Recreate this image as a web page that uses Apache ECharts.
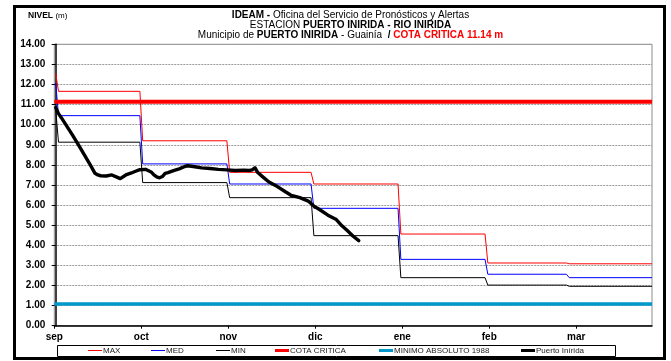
<!DOCTYPE html>
<html>
<head>
<meta charset="utf-8">
<script src="https://cdn.jsdelivr.net/npm/echarts@6/dist/echarts.min.js"></script>
<style>
  html, body { margin: 0; padding: 0; background: #fff; }
  #chart { width: 671px; height: 361px; }
</style>
</head>
<body>
<div id="chart"></div>
<script>
// Month labels, one tick every 31 days counted from 1 September
const monthLabels = ['sep', 'oct', 'nov', 'dic', 'ene', 'feb', 'mar'];
const daysPerTick = 31;

// Day (0 = 1 Sept) on which each monthly reference level starts
const stepDays = [1, 31, 62, 92, 123, 154, 183];

// Historical reference levels (m): value on day 0, then one level per month
const maxStart = 12.55;
const medStart = 12.08;
const minStart = 10.75;
const maxLevels = [11.66, 9.20, 7.63, 7.05, 4.56, 3.12, 3.08];
const medLevels = [10.45, 8.05, 7.05, 5.84, 3.30, 2.56, 2.39];
const minLevels = [9.13, 7.12, 6.37, 4.48, 2.39, 2.02, 1.96];

// Fixed reference levels (m)
const cotaCritica = 11.14;
const minimoAbsoluto1988 = 1.08;

// Observed levels at Puerto Inírida (day from 1 Sept, level in m)
const obsDays = [0, 1, 2, 4, 6, 8, 10, 12, 14, 15, 16, 18, 20, 22, 23, 25, 27, 28, 30, 32,
  34, 35, 36, 37, 38, 39, 40, 42, 44, 46, 47, 49, 52, 55, 58, 61, 64, 67, 69, 70,
  71, 72, 74, 76, 79, 82, 84, 87, 90, 92, 94, 97, 100, 102, 104, 106, 108];
const obsLevels = [10.85, 10.55, 10.35, 9.92, 9.48, 9.02, 8.55, 8.08, 7.58, 7.50, 7.46, 7.45, 7.50, 7.38, 7.32, 7.50, 7.60, 7.66, 7.76, 7.78,
  7.65, 7.50, 7.40, 7.36, 7.42, 7.58, 7.62, 7.72, 7.80, 7.92, 7.96, 7.92, 7.85, 7.82, 7.78, 7.75, 7.72, 7.74, 7.72, 7.75,
  7.86, 7.62, 7.38, 7.15, 6.92, 6.65, 6.48, 6.37, 6.20, 5.95, 5.78, 5.50, 5.28, 4.97, 4.72, 4.45, 4.23];

// Y axis range (m)
const yMin = 0, yMax = 14, yStep = 1;

const FONT = '"Liberation Sans", Arial, sans-serif';
const xMin = -0.5;
const xMax = 212.5;

// Flat monthly levels with a one-day transition between months
function stepSeries(start, levels) {
  const pts = [[0, start]];
  levels.forEach((v, i) => {
    pts.push([stepDays[i], v]);
    const end = i + 1 < stepDays.length ? stepDays[i + 1] - 1 : xMax;
    pts.push([end, v]);
  });
  return pts;
}
function flatSeries(v) {
  return [[xMin, v], [xMax, v]];
}

const tickValues = monthLabels.map((_, i) => xMin + i * daysPerTick);

const chart = echarts.init(document.getElementById('chart'), null, { renderer: 'canvas' });

const legendItems = [
  { name: 'MAX', left: 88, h: 1 },
  { name: 'MED', left: 151, h: 1 },
  { name: 'MIN', left: 216, h: 1 },
  { name: 'COTA CRITICA', left: 275, h: 3 },
  { name: 'MINIMO ABSOLUTO 1988', left: 379, h: 3 },
  { name: 'Puerto Inírida', left: 521, h: 3 }
];

const txt = (size, weight, color) => ({ fontSize: size, fontWeight: weight, fontFamily: FONT, fill: color || '#000', color: color || '#000' });

const option = {
  animation: false,
  backgroundColor: '#fff',
  grid: {
    left: 54.3, top: 44.3, width: 597.7, height: 281.4,
    show: true, borderColor: '#8c8c8c', borderWidth: 1
  },
  xAxis: {
    type: 'value',
    min: xMin, max: xMax,
    axisLine: { show: true, onZero: false, lineStyle: { color: '#000', width: 1.5 } },
    axisTick: { show: true, customValues: tickValues, length: 3, lineStyle: { color: '#000' } },
    axisLabel: {
      customValues: tickValues,
      formatter: v => monthLabels[Math.round((v - xMin) / daysPerTick)] || '',
      fontSize: 10, fontWeight: 'bold', fontFamily: FONT, color: '#000', margin: 7
    },
    splitLine: { show: false }
  },
  yAxis: {
    type: 'value',
    min: yMin, max: yMax, interval: yStep,
    axisLine: { show: true, lineStyle: { color: '#000', width: 1.5 } },
    axisTick: { show: true, length: 4, lineStyle: { color: '#000' } },
    axisLabel: {
      formatter: v => v.toFixed(2),
      fontSize: 10, fontWeight: 'bold', fontFamily: FONT, color: '#000', margin: 9
    },
    splitLine: { show: true, lineStyle: { color: '#9a9a9a', width: 1, type: [2, 1] } }
  },
  legend: legendItems.map(l => ({
    data: [l.name],
    left: l.left, top: 346.5,
    padding: 0,
    icon: 'rect',
    itemWidth: 14, itemHeight: l.h,
    selectedMode: false,
    textStyle: { fontSize: 8, fontFamily: FONT, color: '#222', padding: [0, 0, 0, -4] }
  })),
  graphic: [
    // outer frame
    { type: 'rect', shape: { x: 14.5, y: 6.5, width: 650, height: 352 },
      style: { fill: 'none', stroke: '#000', lineWidth: 3 }, silent: true },
    // legend box
    { type: 'rect', shape: { x: 57.5, y: 345.5, width: 558, height: 11 },
      style: { fill: 'none', stroke: '#000', lineWidth: 1 }, silent: true },
    { type: 'text', x: 28, y: 16,
      style: { text: '{b|NIVEL} {n|(m)}', verticalAlign: 'middle', align: 'left',
        rich: { b: txt(8.5, 'bold'), n: txt(8, 'normal') }, ...txt(8.5, 'normal') } },
    { type: 'text', x: 350.5, y: 15,
      style: { text: '{b|IDEAM -} {n|Oficina del Servicio de Pronósticos y Alertas}', align: 'center', verticalAlign: 'middle',
        rich: { b: txt(10, 'bold'), n: txt(10, 'normal') }, ...txt(10, 'normal') } },
    { type: 'text', x: 350.5, y: 25,
      style: { text: '{n|ESTACION} {b|PUERTO INIRIDA - RIO INIRIDA}', align: 'center', verticalAlign: 'middle',
        rich: { b: txt(10, 'bold'), n: txt(10, 'normal') }, ...txt(10, 'normal') } },
    { type: 'text', x: 350.5, y: 35,
      style: { text: '{n|Municipio de} {b|PUERTO INIRIDA} {n|- Guainía} {b| /} {r|COTA CRITICA 11.14 m}', align: 'center', verticalAlign: 'middle',
        rich: { b: txt(10, 'bold'), n: txt(10, 'normal'), r: txt(10, 'bold', '#ff0000') }, ...txt(10, 'normal') } }
  ],
  series: [
    { name: 'MAX', type: 'line', data: stepSeries(maxStart, maxLevels), color: '#ff0000',
      symbol: 'none', lineStyle: { width: 1 }, silent: true, z: 2 },
    { name: 'MED', type: 'line', data: stepSeries(medStart, medLevels), color: '#0000ff',
      symbol: 'none', lineStyle: { width: 1 }, silent: true, z: 2 },
    { name: 'MIN', type: 'line', data: stepSeries(minStart, minLevels), color: '#000000',
      symbol: 'none', lineStyle: { width: 1 }, silent: true, z: 2 },
    { name: 'COTA CRITICA', type: 'line', data: flatSeries(cotaCritica), color: '#ff0000',
      symbol: 'none', lineStyle: { width: 4 }, silent: true, z: 3 },
    { name: 'MINIMO ABSOLUTO 1988', type: 'line', data: flatSeries(minimoAbsoluto1988), color: '#0099cc',
      symbol: 'none', lineStyle: { width: 3.5 }, silent: true, z: 3 },
    { name: 'Puerto Inírida', type: 'line', data: obsDays.map((d, i) => [d, obsLevels[i]]), color: '#000000',
      symbol: 'none', lineStyle: { width: 3.4, join: 'round', cap: 'round' }, silent: true, z: 4 }
  ]
};

chart.setOption(option);
</script>
</body>
</html>
